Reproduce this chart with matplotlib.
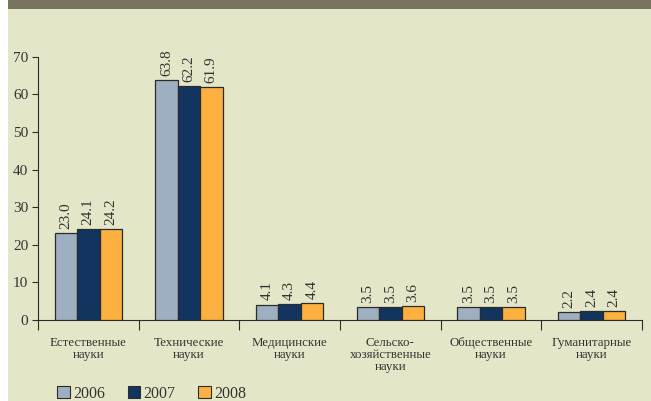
import numpy as np
import matplotlib.pyplot as plt
from matplotlib.patches import Rectangle, Patch

categories = ["Естественные\nнауки", "Технические\nнауки", "Медицинские\nнауки",
              "Сельско-\nхозяйственные\nнауки", "Общественные\nнауки", "Гуманитарные\nнауки"]
years = ["2006", "2007", "2008"]
v2006 = [23.0, 63.8, 4.1, 3.5, 3.5, 2.2]
v2007 = [24.1, 62.2, 4.3, 3.5, 3.5, 2.4]
v2008 = [24.2, 61.9, 4.4, 3.6, 3.5, 2.4]

colors = ["#9eafc1", "#12355f", "#fbb040"]
text_col = "#333333"
plt.rcParams["font.family"] = ["Liberation Serif", "DejaVu Serif"]

fig = plt.figure(figsize=(6.51, 4.01), dpi=100)
fig.patch.set_facecolor("white")
# page background and top band
fig.add_artist(Rectangle((8 / 651, 0), 1, 1, transform=fig.transFigure,
                         facecolor="#e4e7c7", edgecolor="none", zorder=-10))
fig.add_artist(Rectangle((8 / 651, 1 - 9 / 401), 1, 9 / 401, transform=fig.transFigure,
                         facecolor="#76745f", edgecolor="none", zorder=-9))

ax = fig.add_axes([38 / 651, 81 / 401, 604 / 651, 263.3 / 401])
ax.set_facecolor("none")

x = np.arange(len(categories))
w = 0.222
series = [v2006, v2007, v2008]
for i, vals in enumerate(series):
    pos = x + (i - 1) * w
    ax.bar(pos, vals, width=w, color=colors[i], edgecolor="#2b2b2b", linewidth=0.9,
           label=years[i], zorder=3)
    for px, v in zip(pos, vals):
        ax.annotate(f"{v:.1f}", (px, v), xytext=(0, 3), textcoords="offset points",
                    rotation=90, ha="center", va="bottom", fontsize=11, color=text_col)

ax.set_xlim(-0.5, len(categories) - 0.5)
ax.set_ylim(0, 70)
ax.set_yticks(range(0, 71, 10))
ax.tick_params(axis="y", direction="out", length=4, width=0.8, colors="#2b2b2b",
               labelsize=11, labelcolor=text_col, pad=3)
ax.set_xticks(np.arange(len(categories) + 1) - 0.5)
ax.set_xticklabels([])
ax.tick_params(axis="x", which="major", direction="out", length=7, width=0.8, colors="#2b2b2b")
ax.set_xticks(x, minor=True)
ax.set_xticklabels(categories, minor=True, fontsize=9.3, color=text_col, linespacing=1.0)
ax.tick_params(axis="x", which="minor", length=0, pad=12)

for s in ["top", "right"]:
    ax.spines[s].set_visible(False)
for s in ["left", "bottom"]:
    ax.spines[s].set_color("#2b2b2b")
    ax.spines[s].set_linewidth(0.8)

handles = [Patch(facecolor=colors[i], edgecolor="#2b2b2b", linewidth=0.8, label=years[i])
           for i in range(3)]
fig.legend(handles=handles, loc="lower left", bbox_to_anchor=(43 / 651, -15 / 401), ncol=3,
           frameon=False, fontsize=11.5, handlelength=0.8, handleheight=0.8,
           handletextpad=0.2, columnspacing=1.4, labelcolor=text_col)

fig.savefig("out.png", dpi=100, facecolor=fig.get_facecolor())
